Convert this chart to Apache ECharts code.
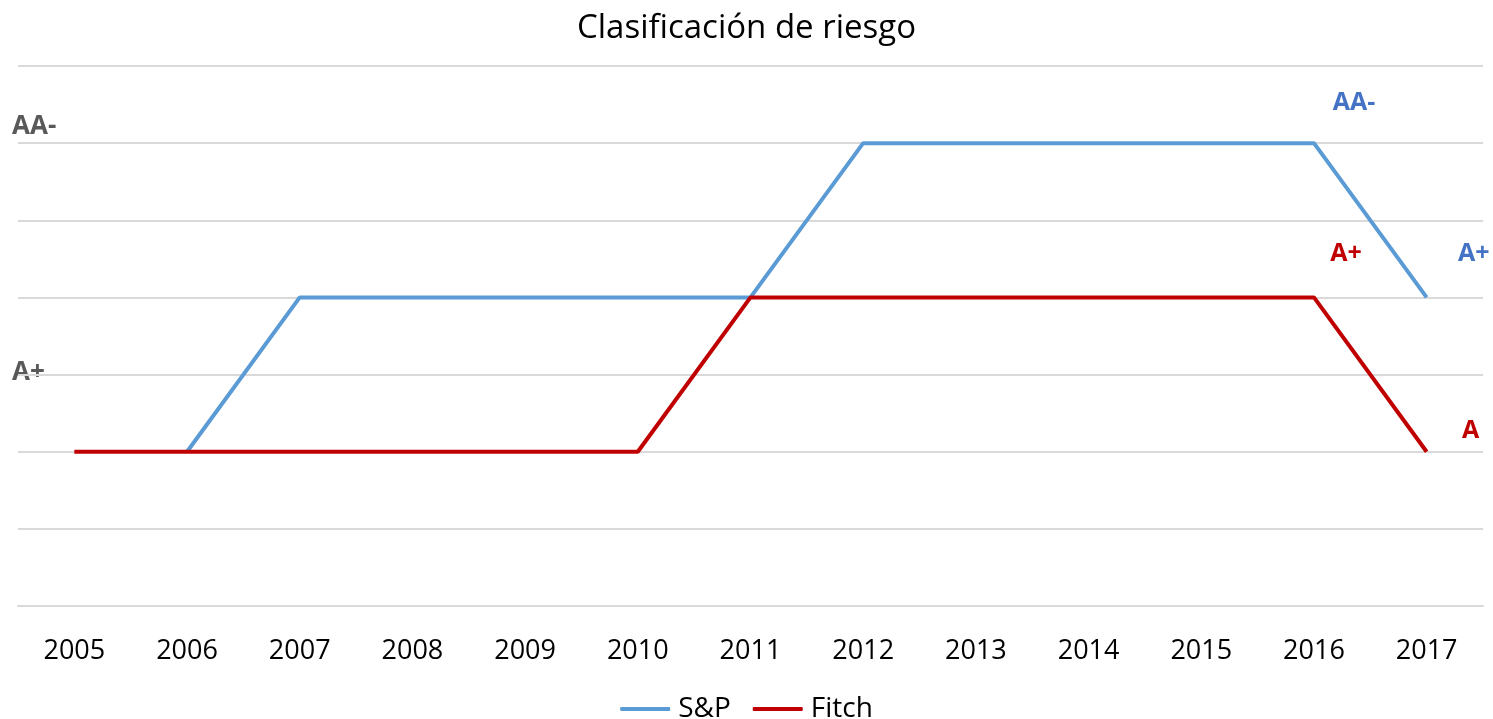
<!DOCTYPE html>
<html>
<head>
<meta charset="utf-8">
<title>Clasificación de riesgo</title>
<script src="https://cdn.jsdelivr.net/npm/echarts@6/dist/echarts.min.js"></script>
<style>
  html, body { margin: 0; padding: 0; background: #fff; }
  #container { width: 1493px; height: 719px; }
</style>
</head>
<body>
<div id="container"></div>
<script>
var years = ['2005', '2006', '2007', '2008', '2009', '2010', '2011', '2012', '2013', '2014', '2015', '2016', '2017'];
// rating level (2 = A, 4 = A+, 6 = AA-)
var spValues = [null, 2, 4, 4, 4, 4, 4, 6, 6, 6, 6, 6, 4];
var fitchValues = [2, 2, 2, 2, 2, 2, 4, 4, 4, 4, 4, 4, 2];
var spLabels = [null, null, null, null, null, null, null, null, null, null, null, 'AA-', 'A+'];
var fitchLabels = [null, null, null, null, null, null, null, null, null, null, null, 'A+', 'A'];

var FONT = '"Open Sans", "Liberation Sans", sans-serif';

// offsets of the point labels, relative to the point
var spOffsets = { 11: [40, -40], 12: [47, -44] };
var fitchOffsets = { 11: [32, -44], 12: [44, -21] };

function buildData(values, labels, offsets, color) {
    return values.map(function (v, i) {
        if (!labels[i]) return v;
        return {
            value: v,
            label: {
                show: true,
                position: 'inside',
                offset: offsets[i],
                formatter: labels[i],
                color: color,
                fontFamily: FONT,
                fontWeight: 'bold',
                fontSize: 25
            }
        };
    });
}

var chart = echarts.init(document.getElementById('container'));
var option = {
    animation: false,
    title: {
        text: 'Clasificación de riesgo',
        left: 'center',
        top: 7,
        textStyle: { fontFamily: FONT, fontWeight: 'normal', fontSize: 33, color: '#000' }
    },
    legend: {
        bottom: -9,
        left: 'center',
        itemWidth: 50,
        itemHeight: 4,
        itemGap: 22,
        icon: 'roundRect',
        textStyle: { fontFamily: FONT, fontSize: 28, color: '#000', padding: [0, 0, 0, 3] },
        data: ['S&P', 'Fitch']
    },
    grid: { left: 18, right: 10, top: 66, bottom: 113, containLabel: false },
    xAxis: {
        type: 'category',
        data: years,
        boundaryGap: true,
        axisLine: { lineStyle: { color: '#d9d9d9', width: 2 } },
        axisTick: { show: false },
        axisLabel: { fontFamily: FONT, fontSize: 27, color: '#000', margin: 32 }
    },
    yAxis: {
        type: 'value',
        min: 0,
        max: 7,
        interval: 1,
        axisLabel: { show: false },
        axisLine: { show: false },
        axisTick: { show: false },
        splitLine: { lineStyle: { color: '#d9d9d9', width: 2 } }
    },
    graphic: [
        { type: 'text', left: 12, top: 114, style: { text: 'AA-', fill: '#595959', font: 'bold 26px ' + FONT } },
        { type: 'text', left: 12, top: 360, style: { text: 'A+', fill: '#595959', font: 'bold 26px ' + FONT } }
    ],
    series: [
        {
            name: 'S&P',
            type: 'line',
            symbol: 'circle',
            symbolSize: 0,
            showSymbol: true,
            color: '#5b9bd5',
            lineStyle: { width: 4, color: '#5b9bd5' },
            data: buildData(spValues, spLabels, spOffsets, '#4472c4')
        },
        {
            name: 'Fitch',
            type: 'line',
            symbol: 'circle',
            symbolSize: 0,
            showSymbol: true,
            color: '#c00000',
            lineStyle: { width: 4, color: '#c00000' },
            data: buildData(fitchValues, fitchLabels, fitchOffsets, '#c00000')
        }
    ]
};
chart.setOption(option);
</script>
</body>
</html>
